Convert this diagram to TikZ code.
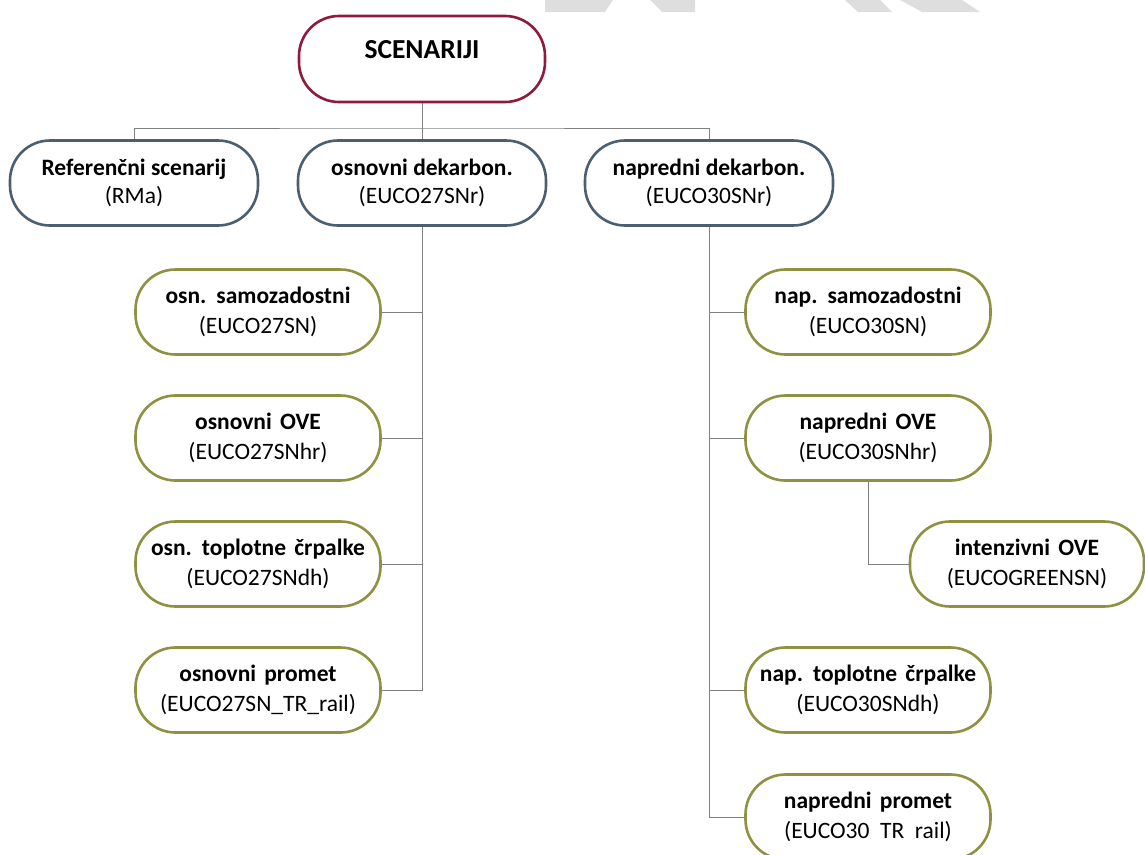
\documentclass[tikz,border=0pt]{standalone}
\usepackage{fontspec}
\setmainfont{Carlito}
\definecolor{redb}{HTML}{8E1B3C}
\definecolor{blueb}{HTML}{4A6070}
\definecolor{greenb}{HTML}{8E9140}
\definecolor{connc}{HTML}{808080}
\definecolor{wm}{HTML}{DEDEDE}
\tikzset{
  box/.style={draw, line width=2.6pt, fill=white, align=center, inner sep=0pt,
    font=\fontsize{23.5}{29.5}\selectfont},
  topbox/.style={box, draw=blueb, minimum width=248pt, minimum height=85pt, rounded corners=40pt,
    font=\fontsize{23.5}{27.5}\selectfont},
  subbox/.style={box, draw=greenb, minimum width=245pt, minimum height=85pt, rounded corners=40pt},
  rootbox/.style={box, draw=redb, minimum width=246pt, minimum height=86pt, rounded corners=40pt,
    font=\fontsize{27.5}{33}\selectfont},
  connline/.style={draw=connc, line width=1pt},
  wmark/.style={fill=wm, draw=none}
}
\newcommand{\bwd}[1]{\textbf{\spaceskip=0.35em #1}}
\begin{document}
\begin{tikzpicture}[x=1pt, y=-1pt]
\useasboundingbox (0,0) rectangle (1145,854);
% watermark fragments
\fill[wmark] (545,0) -- (613,0) -- (605,12) -- (545,12) -- cycle;
\fill[wmark] (650,0) -- (695,0) -- (695,12) -- (662,12) -- cycle;
\fill[wmark] (845,0) -- (880,0) -- (892,12) -- (858,12) -- cycle;
\fill[wmark] (900,0) -- (962,0) -- (980,12) -- (922,12) -- cycle;

% nodes
\node[rootbox] (root) at (422,59) {\raisebox{20pt}{\textbf{SCENARIJI}}};
\node[topbox] (ref) at (134,183) {\textbf{Referenčni scenarij}\\(RMa)};
\node[topbox] (osn) at (422,183) {\textbf{osnovni dekarbon.}\\(EUCO27SNr)};
\node[topbox] (nap) at (709,183) {\textbf{napredni dekarbon.}\\(EUCO30SNr)};

\node[subbox] (l1) at (258,312) {\bwd{osn. samozadostni}\\(EUCO27SN)};
\node[subbox] (l2) at (258,438) {\bwd{osnovni OVE}\\(EUCO27SNhr)};
\node[subbox] (l3) at (258,564) {\bwd{osn. toplotne črpalke}\\(EUCO27SNdh)};
\node[subbox] (l4) at (258,690) {\bwd{osnovni promet}\\(EUCO27SN\_TR\_rail)};

\node[subbox] (r1) at (868,312) {\bwd{nap. samozadostni}\\(EUCO30SN)};
\node[subbox] (r2) at (868,438) {\bwd{napredni OVE}\\(EUCO30SNhr)};
\node[subbox, minimum width=234pt] (int) at (1027,564) {\bwd{intenzivni OVE}\\(EUCOGREENSN)};
\node[subbox] (r3) at (868,690) {\bwd{nap. toplotne črpalke}\\(EUCO30SNdh)};
\node[subbox] (r4) at (868,817) {\bwd{napredni promet}\\(EUCO30\ \ TR\ \ rail)};

% connectors
\coordinate (bus) at (422,128);
\draw[connline] (root.south) -- (bus);
\draw[connline] (ref.north) |- (bus) -| (nap.north);
\draw[connline] (bus) -- (osn.north);
\draw[connline] (osn.south) |- (l4.east);
\draw[connline] (l1.east) -- (l1.east -| osn.south);
\draw[connline] (l2.east) -- (l2.east -| osn.south);
\draw[connline] (l3.east) -- (l3.east -| osn.south);
\draw[connline] (nap.south) |- (r4.west);
\draw[connline] (r1.west) -- (r1.west -| nap.south);
\draw[connline] (r2.west) -- (r2.west -| nap.south);
\draw[connline] (r3.west) -- (r3.west -| nap.south);
\draw[connline] (r2.south) |- (int.west);
\end{tikzpicture}
\end{document}
